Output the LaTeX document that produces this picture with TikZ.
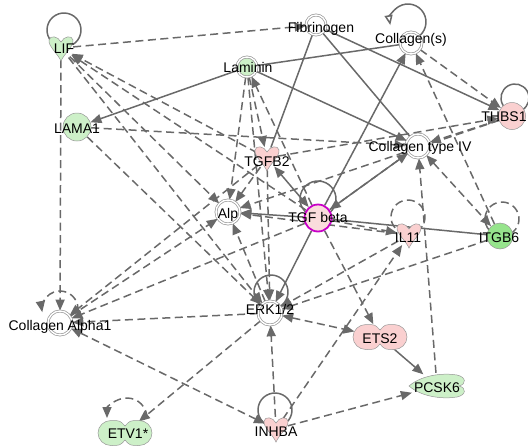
\documentclass[tikz,border=0pt]{standalone}
\usepackage{fontspec}
\setmainfont{Liberation Sans}
\usetikzlibrary{arrows.meta,backgrounds,shapes.geometric}

\definecolor{edgegray}{RGB}{105,105,105}
\definecolor{rimgray}{RGB}{150,150,150}
\definecolor{nodegreen}{RGB}{205,240,200}
\definecolor{itggreen}{RGB}{150,228,140}
\definecolor{nodepink}{RGB}{250,208,208}
\definecolor{tgfpink}{RGB}{250,220,220}
\definecolor{tgfpurple}{RGB}{200,0,200}

\tikzset{
  cyto/.pic={\path[draw=rimgray,line width=0.5pt,fill=#1]
    (0,13) .. controls (-3,6) and (-13,-2) .. (-12,-8)
    .. controls (-11,-13) and (-3,-12) .. (0,-6)
    .. controls (3,-12) and (11,-13) .. (12,-8)
    .. controls (13,-2) and (3,6) .. (0,13) -- cycle;},
  treg/.pic={\path[draw=rimgray,line width=0.5pt,fill=#1]
    (0,-7) .. controls (-5,-12.5) .. (-14,-12.5)
    .. controls (-21,-12.5) and (-27,-7) .. (-27,0)
    .. controls (-27,7) and (-21,12.5) .. (-14,12.5)
    .. controls (-5,12.5) .. (0,7)
    .. controls (5,12.5) .. (14,12.5)
    .. controls (21,12.5) and (27,7) .. (27,0)
    .. controls (27,-7) and (21,-12.5) .. (14,-12.5)
    .. controls (5,-12.5) .. (0,-7) -- cycle;},
  pept/.pic={\path[draw=rimgray,line width=0.5pt,fill=#1]
    (-28,0) .. controls (-14,-12) and (8,-13) .. (20,-11)
    .. controls (29,-9) and (30,-2) .. (22,0)
    .. controls (30,2) and (29,9) .. (20,11)
    .. controls (8,13) and (-14,12) .. (-28,0) -- cycle;}
}

\begin{document}
\begin{tikzpicture}[x=1pt,y=-1pt,>={Triangle[length=11pt,width=9pt]},
  rel/.style={draw=edgegray,line width=1.5pt},
  drel/.style={rel,dash pattern=on 8pt off 4.5pt},
  anc/.style={circle,inner sep=0pt,minimum size=#1},
  anc/.default=24pt,
  cplx/.style={circle,draw=rimgray,double=white,double distance=1.4pt,
    line width=0.7pt,fill=white,inner sep=0pt,minimum size=#1},
  cplx/.default=22pt,
  mol/.style={circle,draw=rimgray,line width=0.5pt,inner sep=0pt,minimum size=#1},
  lbl/.style={font=\fontsize{14}{14}\selectfont,inner sep=0pt,anchor=base}]
\useasboundingbox (0,0) rectangle (528,445);

% molecules
\node[cplx=20pt] (fib) at (316,25) {};
\node[cplx=22pt] (cols) at (411,43) {};
\node[cplx=20pt,fill=nodegreen] (lam) at (247,67) {};
\node[mol=28pt,fill=nodegreen] (lama) at (77,127) {};
\node[mol=27pt,fill=nodepink] (thbs) at (512,116) {};
\node[cplx=24pt] (col4) at (418,146) {};
\node[cplx=24pt] (alp) at (228,212) {};
\node[circle,draw=tgfpurple,line width=1.8pt,fill=tgfpink,inner sep=0pt,
      minimum size=27pt] (tgfb) at (318,218) {};
\node[mol=26pt,fill=itggreen] (itgb6) at (500,236) {};
\node[cplx=24pt] (cola1) at (60,323) {};
\node[cplx=24pt] (erk) at (270,313) {};
\node[anc=24pt] (lif) at (61,48) {};
\node[anc=22pt] (tgfb2) at (267,158) {};
\node[anc=24pt] (il11) at (409,235) {};
\node[anc=24pt] (inhba) at (276,429) {};
\node[ellipse,inner sep=0pt,minimum width=56pt,minimum height=26pt] (ets2) at (380,337) {};
\node[ellipse,inner sep=0pt,minimum width=56pt,minimum height=26pt] (etv1) at (125,433) {};
\node[ellipse,inner sep=0pt,minimum width=58pt,minimum height=26pt] (pcsk6) at (437,386) {};

\pic at (lif) {cyto=nodegreen};
\pic at (tgfb2) {cyto=nodepink};
\pic at (il11) {cyto=nodepink};
\pic at (inhba) {cyto=nodepink};
\pic at (ets2) {treg=nodepink};
\pic at (etv1) {treg=nodegreen};
\pic at (pcsk6) {pept=nodegreen};

\begin{scope}[on background layer]
  % solid relations
  \draw[rel,->] (lam) -- (lama);
  \draw[rel] (lam) -- (cols);
  \draw[rel,->] (lam) -- (col4);
  \draw[rel,->] (fib) -- (thbs);
  \draw[rel] (fib) -- (col4);
  \draw[rel] (fib) -- (tgfb2);
  \draw[rel,->] (tgfb) -- (cols);
  \draw[rel,->] (tgfb) -- (col4);
  \draw[rel,->] (tgfb) -- (alp);
  \draw[rel,<->] (tgfb2) -- (tgfb);
  \draw[rel,->] (tgfb) -- (erk);
  \draw[rel] (tgfb) -- (itgb6);
  \draw[rel,->] (ets2) -- (pcsk6);
  % dashed relations
  \draw[drel,->] (lif) -- (fib);
  \draw[drel,->] (lif) -- (cola1);
  \draw[drel,->] (lif) -- (alp);
  \draw[drel,->] (lif) -- (erk);
  \draw[drel,->] (tgfb) -- (lif);
  \draw[drel,->] (tgfb2) -- (lif);
  \draw[drel,->] (lama) -- (col4);
  \draw[drel,->] (lama) -- (erk);
  \draw[drel,->] (lam) -- (tgfb2);
  \draw[drel,->] (lam) -- (alp);
  \draw[drel,->] (lam) -- (erk);
  \draw[drel,->] (tgfb) -- (lam);
  \draw[drel,->] (tgfb2) -- (alp);
  \draw[drel,->] (tgfb2) -- (erk);
  \draw[drel,->] (tgfb2) -- (cola1);
  \draw[drel,->] (tgfb2) -- (thbs);
  \draw[drel,->] (thbs) -- (alp);
  \draw[drel,->] (thbs) -- (col4);
  \draw[drel,->] (cols) -- (thbs);
  \draw[drel,->] (itgb6) -- (cols);
  \draw[drel,<->] (col4) -- (itgb6);
  \draw[drel,->] (col4) -- (tgfb);
  \draw[drel,->] (pcsk6) -- (col4);
  \draw[drel,->] (il11) -- (alp);
  \draw[drel,->] (tgfb) -- (il11);
  \draw[drel,->] (il11) -- (erk);
  \draw[drel,->] (itgb6) -- (erk);
  \draw[drel,->] (tgfb) -- (cola1);
  \draw[drel,->] (cola1) -- (alp);
  \draw[drel,->] (erk) -- (alp);
  \draw[drel,->] (erk) -- (cola1);
  \draw[drel,<->] (cola1) -- (inhba);
  \draw[drel,->] (erk) -- (etv1);
  \draw[drel,<->] (erk) -- (ets2);
  \draw[drel,->] (inhba) -- (erk);
  \draw[drel,->] (inhba) -- (pcsk6);
  \draw[drel,->] (inhba) -- (il11);
  \draw[drel,->] (tgfb) -- (ets2);
  % self loops
  \draw[rel] ([shift={(3,-18)}]lif.center) ++(60:17) arc[start angle=60,end angle=-240,radius=17];
  \draw[rel] ([shift={(3,-18)}]thbs.center) ++(60:14) arc[start angle=60,end angle=-240,radius=14];
  \draw[rel,-{Triangle[open,length=10pt,width=8pt]}] ([shift={(-3,-21)}]cols.center) ++(60:18)
    arc[start angle=60,end angle=-190,radius=18];
  \draw[rel] ([shift={(0,-19)}]tgfb.center) ++(60:18) arc[start angle=60,end angle=-240,radius=18];
  \draw[rel] ([shift={(1,-21)}]erk.center) ++(60:17) arc[start angle=60,end angle=-240,radius=17];
  \draw[rel] ([shift={(-1,-19)}]inhba.center) ++(60:17) arc[start angle=60,end angle=-240,radius=17];
  \draw[drel] ([shift={(-1,-18)}]il11.center) ++(60:17) arc[start angle=60,end angle=-240,radius=17];
  \draw[drel] ([shift={(2,-17)}]itgb6.center) ++(60:17) arc[start angle=60,end angle=-240,radius=17];
  \draw[drel,->] ([shift={(0,-14)}]cola1.center) ++(10:18) arc[start angle=10,end angle=-190,radius=18];
  \draw[drel,->] ([shift={(2,-15)}]etv1.center) ++(0:20) arc[start angle=0,end angle=-180,radius=20];
\end{scope}

% labels
\node[lbl] at ([shift={(3,5)}]lif.center) {LIF};
\node[lbl] at ([shift={(5,7)}]fib.center) {Fibrinogen};
\node[lbl] at ([shift={(0,0)}]cols.center) {Collagen(s)};
\node[lbl] at ([shift={(1,5)}]lam.center) {Laminin};
\node[lbl] at ([shift={(0,6)}]lama.center) {LAMA1};
\node[lbl] at ([shift={(-8,5)}]thbs.center) {THBS1};
\node[lbl] at ([shift={(0,8)}]tgfb2.center) {TGFB2};
\node[lbl] at ([shift={(2,5)}]col4.center) {Collagen type IV};
\node[lbl] at ([shift={(0,6)}]alp.center) {Alp};
\node[lbl] at ([shift={(0,4)}]tgfb.center) {TGF beta};
\node[lbl] at ([shift={(-1,7)}]il11.center) {IL11};
\node[lbl] at ([shift={(-1,6)}]itgb6.center) {ITGB6};
\node[lbl] at ([shift={(0,7)}]cola1.center) {Collagen Alpha1};
\node[lbl] at ([shift={(0,1)}]erk.center) {ERK1/2};
\node[lbl] at ([shift={(0,6)}]ets2.center) {ETS2};
\node[lbl] at ([shift={(0,6)}]pcsk6.center) {PCSK6};
\node[lbl] at ([shift={(3,5)}]etv1.center) {ETV1*};
\node[lbl] at ([shift={(0,7)}]inhba.center) {INHBA};
\end{tikzpicture}
\end{document}
